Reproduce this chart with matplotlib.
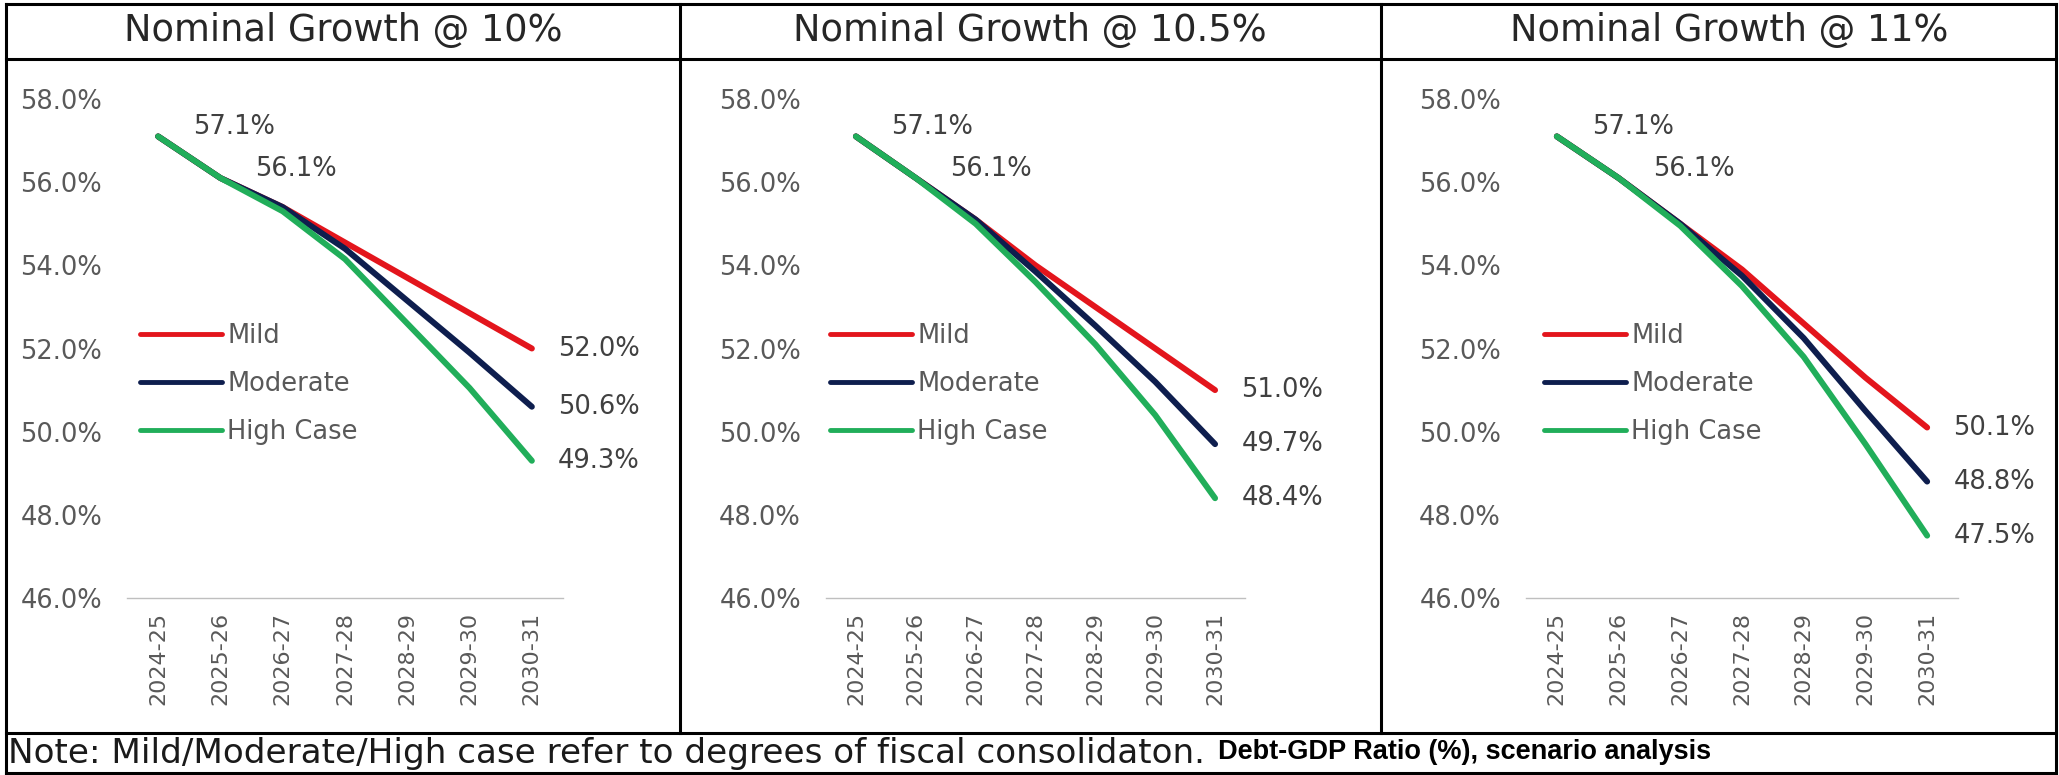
import numpy as np
import matplotlib.pyplot as plt
from matplotlib.lines import Line2D

# data
years = ['2024-25', '2025-26', '2026-27', '2027-28', '2028-29', '2029-30', '2030-31']
titles = ['Nominal Growth @ 10%', 'Nominal Growth @ 10.5%', 'Nominal Growth @ 11%']
series_names = ['Mild', 'Moderate', 'High Case']

mild_10 = [57.1, 56.1, 55.4, 54.55, 53.7, 52.85, 52.0]
moderate_10 = [57.1, 56.1, 55.4, 54.4, 53.15, 51.9, 50.6]
high_10 = [57.1, 56.1, 55.3, 54.15, 52.6, 51.05, 49.3]

mild_105 = [57.1, 56.1, 55.1, 54.0, 53.0, 52.0, 51.0]
moderate_105 = [57.1, 56.1, 55.1, 53.85, 52.55, 51.2, 49.7]
high_105 = [57.1, 56.1, 55.0, 53.6, 52.1, 50.4, 48.4]

mild_11 = [57.1, 56.1, 55.0, 53.9, 52.6, 51.3, 50.1]
moderate_11 = [57.1, 56.1, 55.0, 53.75, 52.25, 50.5, 48.8]
high_11 = [57.1, 56.1, 54.95, 53.5, 51.8, 49.7, 47.5]

y_ticks = [46, 48, 50, 52, 54, 56, 58]

note_text = 'Note: Mild/Moderate/High case refer to degrees of fiscal consolidaton.'
source_text = 'Debt-GDP Ratio (%), scenario analysis'

colors = ['#E3151C', '#0E1E4E', '#21AE5A']

plt.rcParams['font.family'] = ['DejaVu Sans']

W, H = 2059, 775
fig = plt.figure(figsize=(W / 100, H / 100), dpi=100)


def fx(x):
    return x / W


def fy(y):
    return 1 - y / H


def frame_line(x0, y0, x1, y1):
    fig.add_artist(Line2D([fx(x0), fx(x1)], [fy(y0), fy(y1)],
                          transform=fig.transFigure, color='black', lw=2.2))


# layout in pixels: axes x-range, legend x, title centre
layout = [((127, 563), 140, 343), ((826, 1245), 830, 1030), ((1526, 1958), 1544, 1729)]
data = [(mild_10, moderate_10, high_10),
        (mild_105, moderate_105, high_105),
        (mild_11, moderate_11, high_11)]

x = np.arange(len(years))

for (xr, leg_x, title_x), title, vals in zip(layout, titles, data):
    ax = fig.add_axes([fx(xr[0]), fy(598), fx(xr[1]) - fx(xr[0]), fy(99) - fy(598)])
    for s, c, name in zip(vals, colors, series_names):
        ax.plot(x, s, color=c, lw=4.3, solid_capstyle='round', label=name)
    ax.set_xlim(-0.5, len(years) - 0.5)
    ax.set_ylim(46, 58)
    ax.set_yticks(y_ticks)
    ax.set_yticklabels([f'{v:.1f}%' for v in y_ticks])
    ax.set_xticks(x)
    ax.set_xticklabels(years, rotation=90)
    ax.tick_params(axis='y', length=0, pad=18, labelsize=18.5, labelcolor='#595959')
    ax.tick_params(axis='x', length=0, pad=10, labelsize=16, labelcolor='#595959')
    for sp in ['top', 'right', 'left']:
        ax.spines[sp].set_visible(False)
    ax.spines['bottom'].set_color('#BFBFBF')
    ax.spines['bottom'].set_linewidth(1)
    ax.patch.set_alpha(0)

    # data labels
    for i in range(2):
        ax.annotate(f'{vals[2][i]:.1f}%', (x[i], vals[2][i]), xytext=(25, 6.5),
                    textcoords='offset points', ha='left', va='center',
                    fontsize=18.5, color='#404040')
    for s in vals:
        ax.annotate(f'{s[-1]:.1f}%', (x[-1], s[-1]), xytext=(19, 0),
                    textcoords='offset points', ha='left', va='center',
                    fontsize=18.5, color='#404040')

    leg = ax.legend(loc='center left', bbox_to_anchor=(fx(leg_x), fy(384)),
                    bbox_transform=fig.transFigure, frameon=False, fontsize=18.5,
                    handlelength=3.2, handletextpad=0.2, labelspacing=0.85,
                    borderpad=0, borderaxespad=0, labelcolor='#595959')
    for ln in leg.get_lines():
        ln.set_linewidth(3.5)

    fig.text(fx(title_x), fy(30), title, ha='center', va='center',
             fontsize=26.5, color='#262626')

# table frame
frame_line(6, 4, 2056, 4)
frame_line(6, 773, 2056, 773)
frame_line(6, 4, 6, 773)
frame_line(2056, 4, 2056, 773)
frame_line(6, 59, 2056, 59)
frame_line(6, 733, 2056, 733)
frame_line(680, 4, 680, 733)
frame_line(1381, 4, 1381, 733)

fig.text(fx(8), fy(753), note_text, ha='left', va='center', fontsize=24.6, color='#1a1a1a')
fig.text(fx(1218), fy(752), source_text, ha='left', va='center', fontsize=19.5,
         fontweight='bold', family=['Liberation Sans', 'DejaVu Sans'], color='black')

fig.savefig('out.png', dpi=100)
